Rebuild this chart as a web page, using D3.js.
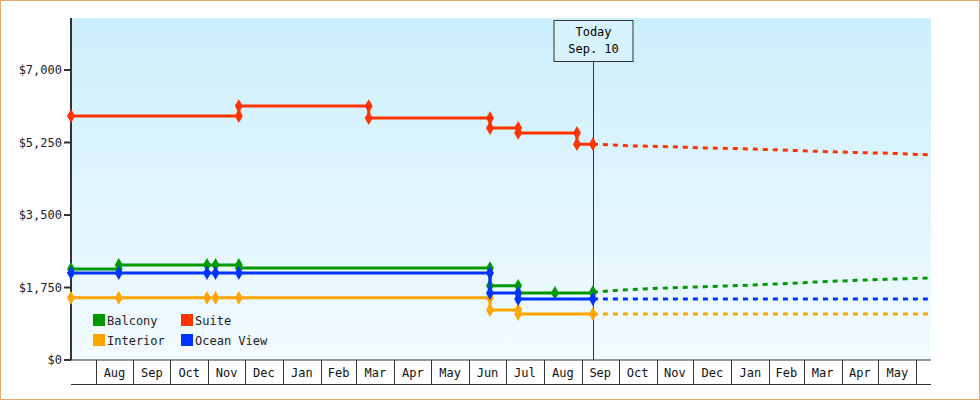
<!DOCTYPE html>
<html><head><meta charset="utf-8">
<script src="https://cdn.jsdelivr.net/npm/d3@7"></script>
<style>
body{margin:0;background:#fff;}
svg{font-family:"DejaVu Sans Mono",monospace;}
</style></head><body>
<div id="chart"></div>
<script>
const parse = d3.timeParse("%Y-%m-%d");
const names = ["Balcony", "Suite", "Interior", "Ocean View"];
const colors = ["#009900", "#ff3300", "#ffa500", "#0033ff"];
const yTicks = [0, 1750, 3500, 5250, 7000];
const today = "2024-09-10";

// observed price changes
const balcony = [["2023-07-12",2196],["2023-08-20",2293],["2023-10-31",2293],["2023-11-07",2293],["2023-11-26",2220],["2024-06-18",1790],["2024-07-11",1617],["2024-08-10",1617],["2024-09-10",1640]];
const suite = [["2023-07-12",5890],["2023-11-26",6130],["2024-03-11",5840],["2024-06-18",5600],["2024-07-11",5480],["2024-08-28",5210],["2024-09-10",5210]];
const interior = [["2023-07-12",1500],["2023-08-20",1500],["2023-10-31",1500],["2023-11-07",1500],["2023-11-26",1500],["2024-06-18",1207],["2024-07-11",1110],["2024-09-10",1110]];
const oceanView = [["2023-07-12",2100],["2023-08-20",2100],["2023-10-31",2100],["2023-11-07",2100],["2023-11-26",2100],["2024-06-18",1617],["2024-07-11",1472],["2024-09-10",1472]];

// forecast
const balconyF = [["2024-09-10",1640],["2024-10-10",1700],["2024-11-10",1740],["2024-12-10",1770],["2025-01-10",1800],["2025-02-10",1840],["2025-03-10",1880],["2025-04-10",1920],["2025-05-10",1950],["2025-06-13",1980]];
const suiteF = [["2024-09-10",5210],["2024-10-10",5170],["2024-11-10",5150],["2024-12-10",5120],["2025-01-10",5100],["2025-02-10",5070],["2025-03-10",5040],["2025-04-10",5010],["2025-05-10",4990],["2025-06-13",4950]];
const interiorF = [["2024-09-10",1110],["2025-06-13",1110]];
const oceanViewF = [["2024-09-10",1472],["2025-06-13",1472]];

const series = [balcony, suite, interior, oceanView];
const forecasts = [balconyF, suiteF, interiorF, oceanViewF];

const W = 980, H = 400;
const margin = {top: 18, right: 49, bottom: 40, left: 71};
const width = W - margin.left - margin.right, height = H - margin.top - margin.bottom;

const x = d3.scaleTime().domain([parse("2023-07-12"), parse("2025-06-13")]).range([0, width]);
const y = d3.scaleLinear().domain([0, 7000]).range([height, height - 290]);

const svg = d3.select("#chart").append("svg").attr("width", W).attr("height", H);
svg.append("rect").attr("x",0.5).attr("y",0.5).attr("width",W-1).attr("height",H-1)
    .attr("fill","#fff").attr("stroke","#e8a868");

const defs = svg.append("defs");
const grad = defs.append("linearGradient").attr("id","bg").attr("x1",0).attr("y1",0).attr("x2",0).attr("y2",1);
grad.append("stop").attr("offset","0%").attr("stop-color","#cbeffc");
grad.append("stop").attr("offset","100%").attr("stop-color","#f2fbff");

const g = svg.append("g").attr("transform", "translate(" + margin.left + "," + margin.top + ")");
g.append("rect").attr("width", width).attr("height", height).attr("fill", "url(#bg)");

// x axis: month cells
const months = d3.timeMonth.range(d3.timeMonth.ceil(x.domain()[0]), x.domain()[1]);
const xa = g.append("g").attr("transform", "translate(0," + height + ")");
xa.selectAll("line.b").data(months).enter().append("line")
    .attr("x1", d => Math.round(x(d)) + 0.5).attr("x2", d => Math.round(x(d)) + 0.5)
    .attr("y1", 0).attr("y2", 24).attr("stroke", "#333");
xa.append("line").attr("x1",0).attr("x2",width).attr("y1",24.5).attr("y2",24.5).attr("stroke","#333");
xa.selectAll("text").data(months).enter().append("text")
    .attr("x", d => (x(d) + Math.min(x(d3.timeMonth.offset(d,1)), width)) / 2)
    .attr("y", 17).attr("text-anchor","middle").attr("font-size", 12).attr("fill","#111")
    .text(d => {
        if (x(d3.timeMonth.offset(d,1)) - x(d) > width - x(d)) return x(d3.timeMonth.offset(d,1)) > width + 20 ? "" : d3.timeFormat("%b")(d);
        return d3.timeFormat("%b")(d);
    });

// y axis
const ya = g.append("g");
ya.append("line").attr("x1",0).attr("x2",0).attr("y1",0).attr("y2",height).attr("stroke","#333").attr("stroke-width",2);
yTicks.forEach(t => {
    ya.append("line").attr("x1",-7).attr("x2",0).attr("y1",y(t)).attr("y2",y(t)).attr("stroke","#333").attr("stroke-width",2);
    ya.append("text").attr("x",-9).attr("y",y(t)+4).attr("text-anchor","end").attr("font-size",12).attr("fill","#222")
        .text("$" + d3.format(",")(t));
});
g.append("line").attr("x1",0).attr("x2",width).attr("y1",height).attr("y2",height).attr("stroke","#333");

// today marker
const tx = Math.round(x(parse(today))) + 0.5;
g.append("line").attr("x1",tx).attr("x2",tx).attr("y1",43).attr("y2",height).attr("stroke","#333");
g.append("rect").attr("x",tx-39.5).attr("y",2.5).attr("width",79).attr("height",41)
    .attr("fill","#d6f3fc").attr("stroke","#333");
g.append("text").attr("x",tx).attr("y",18).attr("text-anchor","middle").attr("font-size",12).text("Today");
g.append("text").attr("x",tx).attr("y",35).attr("text-anchor","middle").attr("font-size",12).text("Sep. 10");

const line = d3.line().x(d => x(parse(d[0]))).y(d => y(d[1]));
const diamond = d3.symbol().type(d3.symbolDiamond).size(55);

forecasts.forEach((f, i) => {
    g.append("path").datum(f).attr("d", line).attr("fill","none")
        .attr("stroke", colors[i]).attr("stroke-width",3).attr("stroke-dasharray","5,5");
});
series.forEach((s, i) => {
    g.append("path").datum(s).attr("d", line.curve(d3.curveStepAfter)).attr("fill","none")
        .attr("stroke", colors[i]).attr("stroke-width",3);
    line.curve(d3.curveLinear);
    const pts = [];
    s.forEach((d, j) => {
        pts.push(d);
        if (j > 0 && s[j-1][1] !== d[1]) pts.push([d[0], s[j-1][1]]);
    });
    g.selectAll(null).data(pts).enter().append("path").attr("d", diamond)
        .attr("transform", d => "translate(" + x(parse(d[0])) + "," + y(d[1]) + ")")
        .attr("fill", colors[i]);
});

// legend
const lg = g.append("g").attr("transform","translate(22,296)");
names.forEach((n, i) => {
    const lx = (i % 2) * 88, ly = Math.floor(i / 2) * 20;
    lg.append("rect").attr("x",lx).attr("y",ly).attr("width",12).attr("height",12).attr("fill",colors[i]);
    lg.append("text").attr("x",lx+14).attr("y",ly+11).attr("font-size",12).attr("fill","#222").text(n);
});
</script></body></html>
